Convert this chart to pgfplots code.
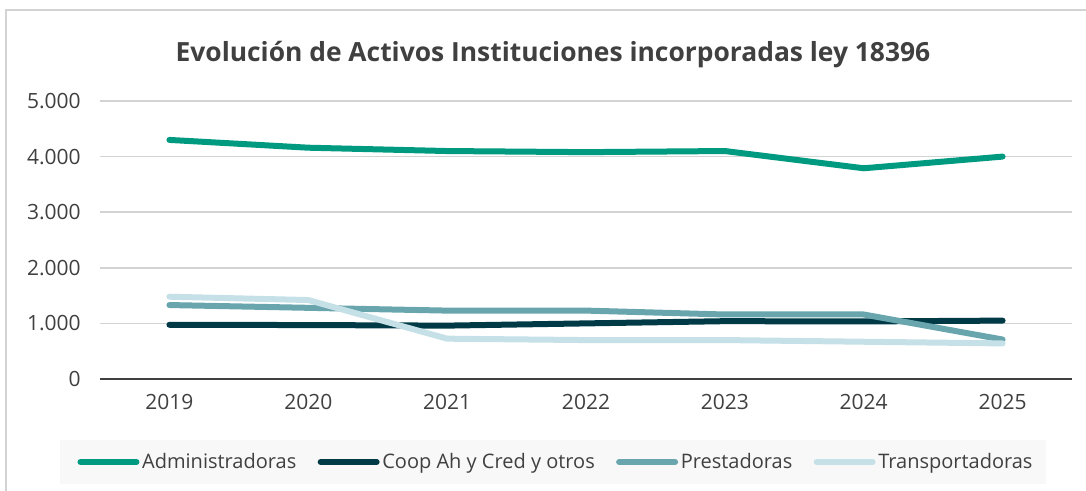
\documentclass[border=0pt]{standalone}
\usepackage{pgfplots}
\pgfplotsset{compat=1.18}
\usepackage{fontspec}
\setmainfont{Open Sans}
\definecolor{admin}{HTML}{009A80}
\definecolor{coop}{HTML}{003A46}
\definecolor{prest}{HTML}{68A5AD}
\definecolor{transp}{HTML}{C5E0E6}
\definecolor{txt}{HTML}{404040}
\definecolor{gridc}{HTML}{D3D3D3}
\definecolor{legbg}{HTML}{F8F8F8}
\begin{document}
\begin{tikzpicture}
\useasboundingbox (0,0) rectangle (814.5pt,368.25pt);
\draw[gridc, line width=1.2pt] (4.5pt,-2pt) -- (4.5pt,360.75pt) -- (820pt,360.75pt);
\fill[legbg] (45pt,5.25pt) rectangle (784.5pt,38.25pt);
\node[txt, font=\bfseries\fontsize{19.8}{24}\selectfont] at (414.75pt,327pt) {Evolución de Activos Instituciones incorporadas ley 18396};
\begin{axis}[
  at={(75pt,84pt)}, anchor=south west,
  scale only axis, width=729pt, height=208.5pt,
  xmin=-0.5, xmax=6.5, ymin=0, ymax=5000,
  xtick={0,1,2,3,4,5,6},
  xticklabels={2019,2020,2021,2022,2023,2024,2025},
  ytick={1000,2000,3000,4000,5000},
  yticklabels={1.000,2.000,3.000,4.000,5.000},
  extra y ticks={0}, extra y tick labels={0},
  extra y tick style={grid style={txt, line width=2.2pt}},
  ymajorgrids,
  grid style={gridc, line width=1.1pt},
  axis line style={draw=none},
  major tick length=0pt,
  tick label style={txt, font=\fontsize{15.75}{18}\selectfont},
  yticklabel style={xshift=-11pt},
  xticklabel style={yshift=-8pt},
  clip=false,
  legend columns=4,
  legend style={at={(axis description cs:0.4695,-0.2986)}, anchor=center, draw=none, fill=none,
    font=\fontsize{15}{18}\selectfont, text=txt,
    /tikz/every even column/.append style={column sep=14pt}},
  legend image code/.code={\draw[#1, line cap=round] (0pt,0pt) -- (42pt,0pt);},
  every axis plot/.append style={line width=4.5pt, line join=round, line cap=round},
]
\addplot[admin] coordinates {(0,4300) (1,4160) (2,4100) (3,4080) (4,4100) (5,3790) (6,4000)};
\addlegendentry{Administradoras}
\addplot[coop] coordinates {(0,975) (1,970) (2,960) (3,1000) (4,1040) (5,1035) (6,1050)};
\addlegendentry{Coop Ah y Cred y otros}
\addplot[prest] coordinates {(0,1330) (1,1280) (2,1230) (3,1230) (4,1160) (5,1160) (6,710)};
\addlegendentry{Prestadoras}
\addplot[transp] coordinates {(0,1480) (1,1420) (2,725) (3,700) (4,700) (5,670) (6,640)};
\addlegendentry{Transportadoras}
\end{axis}
\end{tikzpicture}
\end{document}
